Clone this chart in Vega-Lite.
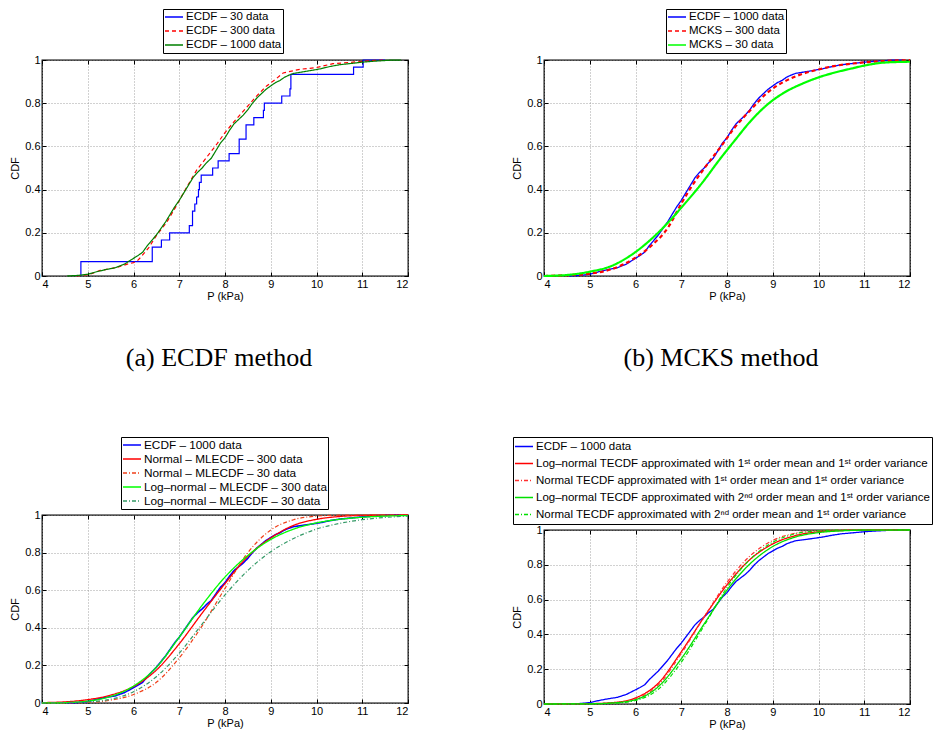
{
  "$schema": "https://vega.github.io/schema/vega-lite/v6.json",
  "padding": {"left": 9, "top": 7, "right": 0, "bottom": 0},
  "background": "white",
  "datasets": {
    "e1000": [{"x":4.55,"y":0},{"x":4.8,"y":0.003},{"x":5.0,"y":0.008},{"x":5.2,"y":0.02},{"x":5.4,"y":0.03},{"x":5.6,"y":0.038},{"x":5.8,"y":0.055},{"x":5.95,"y":0.075},{"x":6.1,"y":0.095},{"x":6.2,"y":0.11},{"x":6.3,"y":0.14},{"x":6.4,"y":0.165},{"x":6.5,"y":0.19},{"x":6.6,"y":0.22},{"x":6.7,"y":0.25},{"x":6.8,"y":0.285},{"x":6.9,"y":0.32},{"x":7.0,"y":0.35},{"x":7.1,"y":0.385},{"x":7.2,"y":0.42},{"x":7.3,"y":0.455},{"x":7.4,"y":0.48},{"x":7.5,"y":0.5},{"x":7.6,"y":0.525},{"x":7.7,"y":0.545},{"x":7.8,"y":0.58},{"x":7.9,"y":0.615},{"x":8.0,"y":0.64},{"x":8.1,"y":0.675},{"x":8.2,"y":0.705},{"x":8.3,"y":0.725},{"x":8.4,"y":0.745},{"x":8.5,"y":0.77},{"x":8.6,"y":0.8},{"x":8.7,"y":0.825},{"x":8.8,"y":0.845},{"x":8.9,"y":0.865},{"x":9.0,"y":0.88},{"x":9.1,"y":0.895},{"x":9.2,"y":0.905},{"x":9.3,"y":0.92},{"x":9.4,"y":0.93},{"x":9.5,"y":0.938},{"x":9.7,"y":0.945},{"x":9.9,"y":0.952},{"x":10.1,"y":0.96},{"x":10.3,"y":0.97},{"x":10.5,"y":0.978},{"x":10.8,"y":0.985},{"x":11.0,"y":0.99},{"x":11.3,"y":0.995},{"x":11.6,"y":0.999},{"x":11.85,"y":1.0}],
    "e30": [{"x":4.849,"y":0},{"x":4.85,"y":0.0667},{"x":6.41,"y":0.1333},{"x":6.61,"y":0.1667},{"x":6.79,"y":0.2},{"x":7.22,"y":0.2333},{"x":7.29,"y":0.3},{"x":7.34,"y":0.3333},{"x":7.38,"y":0.3667},{"x":7.42,"y":0.4},{"x":7.44,"y":0.4333},{"x":7.48,"y":0.4667},{"x":7.73,"y":0.5},{"x":7.85,"y":0.5333},{"x":8.09,"y":0.5667},{"x":8.31,"y":0.6333},{"x":8.46,"y":0.7},{"x":8.63,"y":0.7333},{"x":8.84,"y":0.7667},{"x":8.86,"y":0.8},{"x":9.24,"y":0.8333},{"x":9.42,"y":0.8667},{"x":9.44,"y":0.9333},{"x":10.81,"y":0.9667},{"x":11.02,"y":1.0},{"x":11.5,"y":1.0}],
    "e300": [{"x":4.76,"y":0},{"x":5.05,"y":0.008},{"x":5.27,"y":0.026},{"x":5.45,"y":0.032},{"x":5.64,"y":0.04},{"x":5.85,"y":0.054},{"x":6.0,"y":0.062},{"x":6.08,"y":0.07},{"x":6.15,"y":0.085},{"x":6.33,"y":0.13},{"x":6.51,"y":0.19},{"x":6.73,"y":0.25},{"x":6.95,"y":0.33},{"x":7.16,"y":0.41},{"x":7.38,"y":0.49},{"x":7.6,"y":0.55},{"x":7.82,"y":0.61},{"x":8.0,"y":0.664},{"x":8.18,"y":0.71},{"x":8.47,"y":0.78},{"x":8.69,"y":0.833},{"x":8.91,"y":0.88},{"x":9.1,"y":0.91},{"x":9.27,"y":0.94},{"x":9.64,"y":0.957},{"x":10.0,"y":0.965},{"x":10.36,"y":0.983},{"x":10.73,"y":0.989},{"x":11.09,"y":0.995},{"x":11.45,"y":1.0}],
    "m300": [{"x":4,"y":0},{"x":4.5,"y":0.004},{"x":5,"y":0.011},{"x":5.47,"y":0.031},{"x":6,"y":0.085},{"x":6.34,"y":0.139},{"x":6.71,"y":0.224},{"x":7.0,"y":0.335},{"x":7.29,"y":0.435},{"x":7.58,"y":0.52},{"x":7.87,"y":0.6},{"x":8.16,"y":0.685},{"x":8.52,"y":0.77},{"x":8.89,"y":0.85},{"x":9.25,"y":0.9},{"x":9.61,"y":0.933},{"x":9.98,"y":0.955},{"x":10.34,"y":0.972},{"x":10.71,"y":0.983},{"x":11.07,"y":0.99},{"x":11.5,"y":0.996},{"x":12,"y":0.999}],
    "m30": [{"x":4,"y":0},{"x":4.52,"y":0.005},{"x":5,"y":0.02},{"x":5.47,"y":0.046},{"x":5.98,"y":0.108},{"x":6.34,"y":0.17},{"x":6.71,"y":0.247},{"x":7.0,"y":0.316},{"x":7.43,"y":0.424},{"x":7.87,"y":0.548},{"x":8.16,"y":0.625},{"x":8.52,"y":0.718},{"x":8.89,"y":0.795},{"x":9.25,"y":0.849},{"x":9.61,"y":0.887},{"x":9.98,"y":0.918},{"x":10.34,"y":0.941},{"x":10.71,"y":0.96},{"x":11.07,"y":0.977},{"x":11.43,"y":0.988},{"x":12,"y":0.992}],
    "cn300": [{"x":4,"y":0.002},{"x":4.5,"y":0.006},{"x":5,"y":0.018},{"x":5.5,"y":0.042},{"x":6,"y":0.088},{"x":6.5,"y":0.175},{"x":7,"y":0.315},{"x":7.5,"y":0.478},{"x":8,"y":0.635},{"x":8.5,"y":0.78},{"x":9,"y":0.878},{"x":9.5,"y":0.945},{"x":10,"y":0.977},{"x":10.5,"y":0.992},{"x":11,"y":0.998},{"x":12,"y":1}],
    "cn30": [{"x":4,"y":0},{"x":5,"y":0.003},{"x":5.5,"y":0.015},{"x":6,"y":0.045},{"x":6.5,"y":0.11},{"x":7,"y":0.24},{"x":7.5,"y":0.41},{"x":8,"y":0.61},{"x":8.5,"y":0.8},{"x":9,"y":0.92},{"x":9.5,"y":0.975},{"x":10,"y":0.994},{"x":10.5,"y":0.999},{"x":11,"y":1.0},{"x":12,"y":1.0}],
    "cl300": [{"x":4,"y":0},{"x":4.5,"y":0.002},{"x":5,"y":0.01},{"x":5.5,"y":0.035},{"x":6,"y":0.09},{"x":6.5,"y":0.19},{"x":7,"y":0.35},{"x":7.5,"y":0.52},{"x":8,"y":0.67},{"x":8.5,"y":0.785},{"x":9,"y":0.87},{"x":9.5,"y":0.925},{"x":10,"y":0.958},{"x":10.5,"y":0.977},{"x":11,"y":0.988},{"x":12,"y":0.997}],
    "cl30": [{"x":4,"y":0},{"x":5,"y":0.006},{"x":5.5,"y":0.02},{"x":6,"y":0.06},{"x":6.5,"y":0.14},{"x":7,"y":0.265},{"x":7.5,"y":0.42},{"x":8,"y":0.575},{"x":8.5,"y":0.705},{"x":9,"y":0.805},{"x":9.5,"y":0.875},{"x":10,"y":0.925},{"x":10.5,"y":0.955},{"x":11,"y":0.975},{"x":11.5,"y":0.987},{"x":12,"y":0.994}],
    "dln11": [{"x":4,"y":0},{"x":5,"y":0.002},{"x":5.5,"y":0.008},{"x":6,"y":0.035},{"x":6.5,"y":0.12},{"x":7,"y":0.3},{"x":7.5,"y":0.5},{"x":8,"y":0.685},{"x":8.5,"y":0.83},{"x":9,"y":0.92},{"x":9.5,"y":0.968},{"x":10,"y":0.99},{"x":10.5,"y":0.997},{"x":11,"y":1},{"x":12,"y":1}],
    "dn11": [{"x":4,"y":0},{"x":5,"y":0.001},{"x":5.5,"y":0.006},{"x":6,"y":0.03},{"x":6.5,"y":0.11},{"x":7,"y":0.29},{"x":7.5,"y":0.5},{"x":8,"y":0.7},{"x":8.5,"y":0.85},{"x":9,"y":0.94},{"x":9.5,"y":0.982},{"x":10,"y":0.996},{"x":10.5,"y":1},{"x":12,"y":1}],
    "dln21": [{"x":4,"y":0},{"x":5,"y":0.001},{"x":5.5,"y":0.006},{"x":6,"y":0.025},{"x":6.5,"y":0.1},{"x":7,"y":0.26},{"x":7.5,"y":0.46},{"x":8,"y":0.655},{"x":8.5,"y":0.805},{"x":9,"y":0.905},{"x":9.5,"y":0.96},{"x":10,"y":0.985},{"x":10.5,"y":0.995},{"x":11,"y":0.999},{"x":12,"y":1}],
    "dn21": [{"x":4,"y":0},{"x":5,"y":0.001},{"x":5.5,"y":0.004},{"x":6,"y":0.02},{"x":6.5,"y":0.085},{"x":7,"y":0.24},{"x":7.5,"y":0.45},{"x":8,"y":0.67},{"x":8.5,"y":0.83},{"x":9,"y":0.93},{"x":9.5,"y":0.978},{"x":10,"y":0.995},{"x":10.5,"y":1},{"x":12,"y":1}]
  },
  "config": {
    "font": "Liberation Sans",
    "view": {"stroke": "black", "strokeWidth": 1.3},
    "axis": {
      "labelFont": "Liberation Sans", "labelFontSize": 11, "labelColor": "black",
      "titleFont": "Liberation Sans", "titleFontSize": 11, "titleFontWeight": "normal", "titleColor": "black",
      "grid": true, "gridColor": "#8a8a8a", "gridDash": [1, 2], "gridWidth": 0.8,
      "domain": false, "tickColor": "black", "tickSize": -4, "tickWidth": 1
    },
    "axisX": {"labelPadding": 6, "titlePadding": 1},
    "axisY": {"labelPadding": 6, "titlePadding": 4},
    "legend": {
      "orient": "none", "symbolType": "stroke", "symbolStrokeWidth": 1.3, "symbolSize": 324,
      "labelFont": "Liberation Sans", "labelFontSize": 11.5, "labelColor": "black",
      "fillColor": "white", "strokeColor": "black", "padding": 1, "rowPadding": 0,
      "clipHeight": 14, "labelLimit": 1000, "labelOffset": 2, "symbolOpacity": 1
    },
    "title": {"font": "Liberation Serif", "fontSize": 26, "fontWeight": "normal", "color": "black", "orient": "bottom", "offset": 44, "anchor": "middle", "dx": -6}
  },
  "spacing": 99,
  "resolve": {"scale": {"color": "independent", "strokeDash": "independent"}},
  "hconcat": [
    {
      "spacing": 239,
      "bounds": "flush",
      "resolve": {"scale": {"color": "independent", "strokeDash": "independent"}},
      "vconcat": [
        {
          "width": 366, "height": 216,
          "title": {"text": "(a) ECDF method"},
          "layer": [
            {"data": {"name": "e30"}, "mark": {"type": "line", "interpolate": "step-after", "strokeWidth": 1.2},
             "encoding": {
               "x": {"field": "x", "type": "quantitative", "scale": {"domain": [4, 12], "nice": false, "zero": false}, "axis": {"orient": "bottom", "values": [4,5,6,7,8,9,10,11,12], "title": "P (kPa)"}},
               "y": {"field": "y", "type": "quantitative", "scale": {"domain": [0, 1], "nice": false}, "axis": {"orient": "left", "values": [0,0.2,0.4,0.6,0.8,1], "format": "~g", "title": "CDF"}},
               "color": {"datum": "ECDF – 30 data", "scale": {"domain": ["ECDF – 30 data", "ECDF – 300 data", "ECDF – 1000 data"], "range": ["#0000ff", "#ff0000", "#008000"]}, "legend": {"title": null, "legendX": 121, "legendY": -51}},
               "strokeDash": {"datum": "ECDF – 30 data", "scale": {"domain": ["ECDF – 30 data", "ECDF – 300 data", "ECDF – 1000 data"], "range": [[1, 0], [4, 3], [1, 0]]}, "legend": {"title": null, "legendX": 121, "legendY": -51}},
               "order": {"value": null}
             }},
            {"data": {"name": "e300"}, "mark": {"type": "line", "strokeWidth": 1.2},
             "encoding": {
               "x": {"field": "x", "type": "quantitative", "scale": {"domain": [4, 12], "nice": false, "zero": false}, "axis": null},
               "y": {"field": "y", "type": "quantitative", "scale": {"domain": [0, 1], "nice": false}, "axis": null},
               "color": {"datum": "ECDF – 300 data"},
               "strokeDash": {"datum": "ECDF – 300 data"},
               "order": {"value": null}
             }},
            {"data": {"name": "e1000"}, "mark": {"type": "line", "strokeWidth": 1.2},
             "encoding": {
               "x": {"field": "x", "type": "quantitative", "scale": {"domain": [4, 12], "nice": false, "zero": false}, "axis": null},
               "y": {"field": "y", "type": "quantitative", "scale": {"domain": [0, 1], "nice": false}, "axis": null},
               "color": {"datum": "ECDF – 1000 data"},
               "strokeDash": {"datum": "ECDF – 1000 data"},
               "order": {"value": null}
             }},
            {"data": {"name": "e1000"}, "mark": {"type": "point", "opacity": 0},
             "encoding": {
               "x": {"field": "x", "type": "quantitative", "scale": {"domain": [4, 12], "nice": false, "zero": false}, "axis": {"orient": "top", "values": [4,5,6,7,8,9,10,11,12], "labels": false, "grid": false, "title": null}},
               "y": {"field": "y", "type": "quantitative", "scale": {"domain": [0, 1], "nice": false}, "axis": {"orient": "right", "values": [0,0.2,0.4,0.6,0.8,1], "labels": false, "grid": false, "title": null}}
             }}
          ]
        },
        {
          "width": 366, "height": 188,
          "layer": [
            {"data": {"name": "e1000"}, "mark": {"type": "line", "strokeWidth": 1.6},
             "encoding": {
               "x": {"field": "x", "type": "quantitative", "scale": {"domain": [4, 12], "nice": false, "zero": false}, "axis": {"orient": "bottom", "values": [4,5,6,7,8,9,10,11,12], "title": "P (kPa)"}},
               "y": {"field": "y", "type": "quantitative", "scale": {"domain": [0, 1], "nice": false}, "axis": {"orient": "left", "values": [0,0.2,0.4,0.6,0.8,1], "format": "~g", "title": "CDF"}},
               "color": {"datum": "ECDF – 1000 data", "scale": {"domain": ["ECDF – 1000 data", "Normal – MLECDF – 300 data", "Normal – MLECDF – 30 data", "Log–normal – MLECDF – 300 data", "Log–normal – MLECDF – 30 data"], "range": ["#0000ff", "#ff0000", "#f0401a", "#00ff00", "#339966"]}, "legend": {"title": null, "legendX": 79, "legendY": -78, "labelFontSize": 11.8}},
               "strokeDash": {"datum": "ECDF – 1000 data", "scale": {"domain": ["ECDF – 1000 data", "Normal – MLECDF – 300 data", "Normal – MLECDF – 30 data", "Log–normal – MLECDF – 300 data", "Log–normal – MLECDF – 30 data"], "range": [[1, 0], [1, 0], [4, 2, 1, 2], [1, 0], [4, 2, 1, 2]]}, "legend": {"title": null, "legendX": 79, "legendY": -78, "labelFontSize": 11.8}},
               "order": {"value": null}
             }},
            {"data": {"name": "cn300"}, "mark": {"type": "line", "strokeWidth": 1.3, "interpolate": "monotone"},
             "encoding": {
               "x": {"field": "x", "type": "quantitative", "scale": {"domain": [4, 12], "nice": false, "zero": false}, "axis": null},
               "y": {"field": "y", "type": "quantitative", "scale": {"domain": [0, 1], "nice": false}, "axis": null},
               "color": {"datum": "Normal – MLECDF – 300 data"},
               "strokeDash": {"datum": "Normal – MLECDF – 300 data"},
               "order": {"value": null}
             }},
            {"data": {"name": "cn30"}, "mark": {"type": "line", "strokeWidth": 1.2, "interpolate": "monotone"},
             "encoding": {
               "x": {"field": "x", "type": "quantitative", "scale": {"domain": [4, 12], "nice": false, "zero": false}, "axis": null},
               "y": {"field": "y", "type": "quantitative", "scale": {"domain": [0, 1], "nice": false}, "axis": null},
               "color": {"datum": "Normal – MLECDF – 30 data"},
               "strokeDash": {"datum": "Normal – MLECDF – 30 data"},
               "order": {"value": null}
             }},
            {"data": {"name": "cl300"}, "mark": {"type": "line", "strokeWidth": 1.3, "interpolate": "monotone"},
             "encoding": {
               "x": {"field": "x", "type": "quantitative", "scale": {"domain": [4, 12], "nice": false, "zero": false}, "axis": null},
               "y": {"field": "y", "type": "quantitative", "scale": {"domain": [0, 1], "nice": false}, "axis": null},
               "color": {"datum": "Log–normal – MLECDF – 300 data"},
               "strokeDash": {"datum": "Log–normal – MLECDF – 300 data"},
               "order": {"value": null}
             }},
            {"data": {"name": "cl30"}, "mark": {"type": "line", "strokeWidth": 1.2, "interpolate": "monotone"},
             "encoding": {
               "x": {"field": "x", "type": "quantitative", "scale": {"domain": [4, 12], "nice": false, "zero": false}, "axis": null},
               "y": {"field": "y", "type": "quantitative", "scale": {"domain": [0, 1], "nice": false}, "axis": null},
               "color": {"datum": "Log–normal – MLECDF – 30 data"},
               "strokeDash": {"datum": "Log–normal – MLECDF – 30 data"},
               "order": {"value": null}
             }},
            {"data": {"name": "e1000"}, "mark": {"type": "point", "opacity": 0},
             "encoding": {
               "x": {"field": "x", "type": "quantitative", "scale": {"domain": [4, 12], "nice": false, "zero": false}, "axis": {"orient": "top", "values": [4,5,6,7,8,9,10,11,12], "labels": false, "grid": false, "title": null}},
               "y": {"field": "y", "type": "quantitative", "scale": {"domain": [0, 1], "nice": false}, "axis": {"orient": "right", "values": [0,0.2,0.4,0.6,0.8,1], "labels": false, "grid": false, "title": null}}
             }}
          ]
        }
      ]
    },
    {
      "spacing": 254,
      "bounds": "flush",
      "resolve": {"scale": {"color": "independent", "strokeDash": "independent"}},
      "vconcat": [
        {
          "width": 366, "height": 216,
          "title": {"text": "(b) MCKS method"},
          "layer": [
            {"data": {"name": "e1000"}, "mark": {"type": "line", "strokeWidth": 1.3},
             "encoding": {
               "x": {"field": "x", "type": "quantitative", "scale": {"domain": [4, 12], "nice": false, "zero": false}, "axis": {"orient": "bottom", "values": [4,5,6,7,8,9,10,11,12], "title": "P (kPa)"}},
               "y": {"field": "y", "type": "quantitative", "scale": {"domain": [0, 1], "nice": false}, "axis": {"orient": "left", "values": [0,0.2,0.4,0.6,0.8,1], "format": "~g", "title": "CDF"}},
               "color": {"datum": "ECDF – 1000 data", "scale": {"domain": ["ECDF – 1000 data", "MCKS – 300 data", "MCKS – 30 data"], "range": ["#0000ff", "#ff0000", "#00ff00"]}, "legend": {"title": null, "legendX": 122, "legendY": -51}},
               "strokeDash": {"datum": "ECDF – 1000 data", "scale": {"domain": ["ECDF – 1000 data", "MCKS – 300 data", "MCKS – 30 data"], "range": [[1, 0], [4, 3], [1, 0]]}, "legend": {"title": null, "legendX": 122, "legendY": -51}},
               "order": {"value": null}
             }},
            {"data": {"name": "m300"}, "mark": {"type": "line", "strokeWidth": 2.2, "interpolate": "monotone"},
             "encoding": {
               "x": {"field": "x", "type": "quantitative", "scale": {"domain": [4, 12], "nice": false, "zero": false}, "axis": null},
               "y": {"field": "y", "type": "quantitative", "scale": {"domain": [0, 1], "nice": false}, "axis": null},
               "color": {"datum": "MCKS – 300 data"},
               "strokeDash": {"datum": "MCKS – 300 data"},
               "order": {"value": null}
             }},
            {"data": {"name": "m30"}, "mark": {"type": "line", "strokeWidth": 2.2, "interpolate": "monotone"},
             "encoding": {
               "x": {"field": "x", "type": "quantitative", "scale": {"domain": [4, 12], "nice": false, "zero": false}, "axis": null},
               "y": {"field": "y", "type": "quantitative", "scale": {"domain": [0, 1], "nice": false}, "axis": null},
               "color": {"datum": "MCKS – 30 data"},
               "strokeDash": {"datum": "MCKS – 30 data"},
               "order": {"value": null}
             }},
            {"data": {"name": "e1000"}, "mark": {"type": "point", "opacity": 0},
             "encoding": {
               "x": {"field": "x", "type": "quantitative", "scale": {"domain": [4, 12], "nice": false, "zero": false}, "axis": {"orient": "top", "values": [4,5,6,7,8,9,10,11,12], "labels": false, "grid": false, "title": null}},
               "y": {"field": "y", "type": "quantitative", "scale": {"domain": [0, 1], "nice": false}, "axis": {"orient": "right", "values": [0,0.2,0.4,0.6,0.8,1], "labels": false, "grid": false, "title": null}}
             }}
          ]
        },
        {
          "width": 366, "height": 174,
          "layer": [
            {"data": {"name": "e1000"}, "mark": {"type": "line", "strokeWidth": 1.3},
             "encoding": {
               "x": {"field": "x", "type": "quantitative", "scale": {"domain": [4, 12], "nice": false, "zero": false}, "axis": {"orient": "bottom", "values": [4,5,6,7,8,9,10,11,12], "title": "P (kPa)"}},
               "y": {"field": "y", "type": "quantitative", "scale": {"domain": [0, 1], "nice": false}, "axis": {"orient": "left", "values": [0,0.2,0.4,0.6,0.8,1], "format": "~g", "title": "CDF"}},
               "color": {"datum": "ECDF – 1000 data", "scale": {"domain": ["ECDF – 1000 data", "Log–normal TECDF approximated with 1ˢᵗ order mean and 1ˢᵗ order variance", "Normal TECDF approximated with 1ˢᵗ order mean and 1ˢᵗ order variance", "Log–normal TECDF approximated with 2ⁿᵈ order mean and 1ˢᵗ order variance", "Normal TECDF approximated with 2ⁿᵈ order mean and 1ˢᵗ order variance"], "range": ["#0000ff", "#ff0000", "#ff3030", "#00e000", "#00e000"]}, "legend": {"title": null, "legendX": -31, "legendY": -93, "clipHeight": 17, "labelFontSize": 11.5}},
               "strokeDash": {"datum": "ECDF – 1000 data", "scale": {"domain": ["ECDF – 1000 data", "Log–normal TECDF approximated with 1ˢᵗ order mean and 1ˢᵗ order variance", "Normal TECDF approximated with 1ˢᵗ order mean and 1ˢᵗ order variance", "Log–normal TECDF approximated with 2ⁿᵈ order mean and 1ˢᵗ order variance", "Normal TECDF approximated with 2ⁿᵈ order mean and 1ˢᵗ order variance"], "range": [[1, 0], [1, 0], [4, 2, 1, 2], [1, 0], [4, 2, 1, 2]]}, "legend": {"title": null, "legendX": -31, "legendY": -93, "clipHeight": 17, "labelFontSize": 11.5}},
               "order": {"value": null}
             }},
            {"data": {"name": "dln11"}, "mark": {"type": "line", "strokeWidth": 1.3, "interpolate": "monotone"},
             "encoding": {
               "x": {"field": "x", "type": "quantitative", "scale": {"domain": [4, 12], "nice": false, "zero": false}, "axis": null},
               "y": {"field": "y", "type": "quantitative", "scale": {"domain": [0, 1], "nice": false}, "axis": null},
               "color": {"datum": "Log–normal TECDF approximated with 1ˢᵗ order mean and 1ˢᵗ order variance"},
               "strokeDash": {"datum": "Log–normal TECDF approximated with 1ˢᵗ order mean and 1ˢᵗ order variance"},
               "order": {"value": null}
             }},
            {"data": {"name": "dn11"}, "mark": {"type": "line", "strokeWidth": 1.2, "interpolate": "monotone"},
             "encoding": {
               "x": {"field": "x", "type": "quantitative", "scale": {"domain": [4, 12], "nice": false, "zero": false}, "axis": null},
               "y": {"field": "y", "type": "quantitative", "scale": {"domain": [0, 1], "nice": false}, "axis": null},
               "color": {"datum": "Normal TECDF approximated with 1ˢᵗ order mean and 1ˢᵗ order variance"},
               "strokeDash": {"datum": "Normal TECDF approximated with 1ˢᵗ order mean and 1ˢᵗ order variance"},
               "order": {"value": null}
             }},
            {"data": {"name": "dln21"}, "mark": {"type": "line", "strokeWidth": 1.3, "interpolate": "monotone"},
             "encoding": {
               "x": {"field": "x", "type": "quantitative", "scale": {"domain": [4, 12], "nice": false, "zero": false}, "axis": null},
               "y": {"field": "y", "type": "quantitative", "scale": {"domain": [0, 1], "nice": false}, "axis": null},
               "color": {"datum": "Log–normal TECDF approximated with 2ⁿᵈ order mean and 1ˢᵗ order variance"},
               "strokeDash": {"datum": "Log–normal TECDF approximated with 2ⁿᵈ order mean and 1ˢᵗ order variance"},
               "order": {"value": null}
             }},
            {"data": {"name": "dn21"}, "mark": {"type": "line", "strokeWidth": 1.2, "interpolate": "monotone"},
             "encoding": {
               "x": {"field": "x", "type": "quantitative", "scale": {"domain": [4, 12], "nice": false, "zero": false}, "axis": null},
               "y": {"field": "y", "type": "quantitative", "scale": {"domain": [0, 1], "nice": false}, "axis": null},
               "color": {"datum": "Normal TECDF approximated with 2ⁿᵈ order mean and 1ˢᵗ order variance"},
               "strokeDash": {"datum": "Normal TECDF approximated with 2ⁿᵈ order mean and 1ˢᵗ order variance"},
               "order": {"value": null}
             }},
            {"data": {"name": "e1000"}, "mark": {"type": "point", "opacity": 0},
             "encoding": {
               "x": {"field": "x", "type": "quantitative", "scale": {"domain": [4, 12], "nice": false, "zero": false}, "axis": {"orient": "top", "values": [4,5,6,7,8,9,10,11,12], "labels": false, "grid": false, "title": null}},
               "y": {"field": "y", "type": "quantitative", "scale": {"domain": [0, 1], "nice": false}, "axis": {"orient": "right", "values": [0,0.2,0.4,0.6,0.8,1], "labels": false, "grid": false, "title": null}}
             }}
          ]
        }
      ]
    }
  ]
}
